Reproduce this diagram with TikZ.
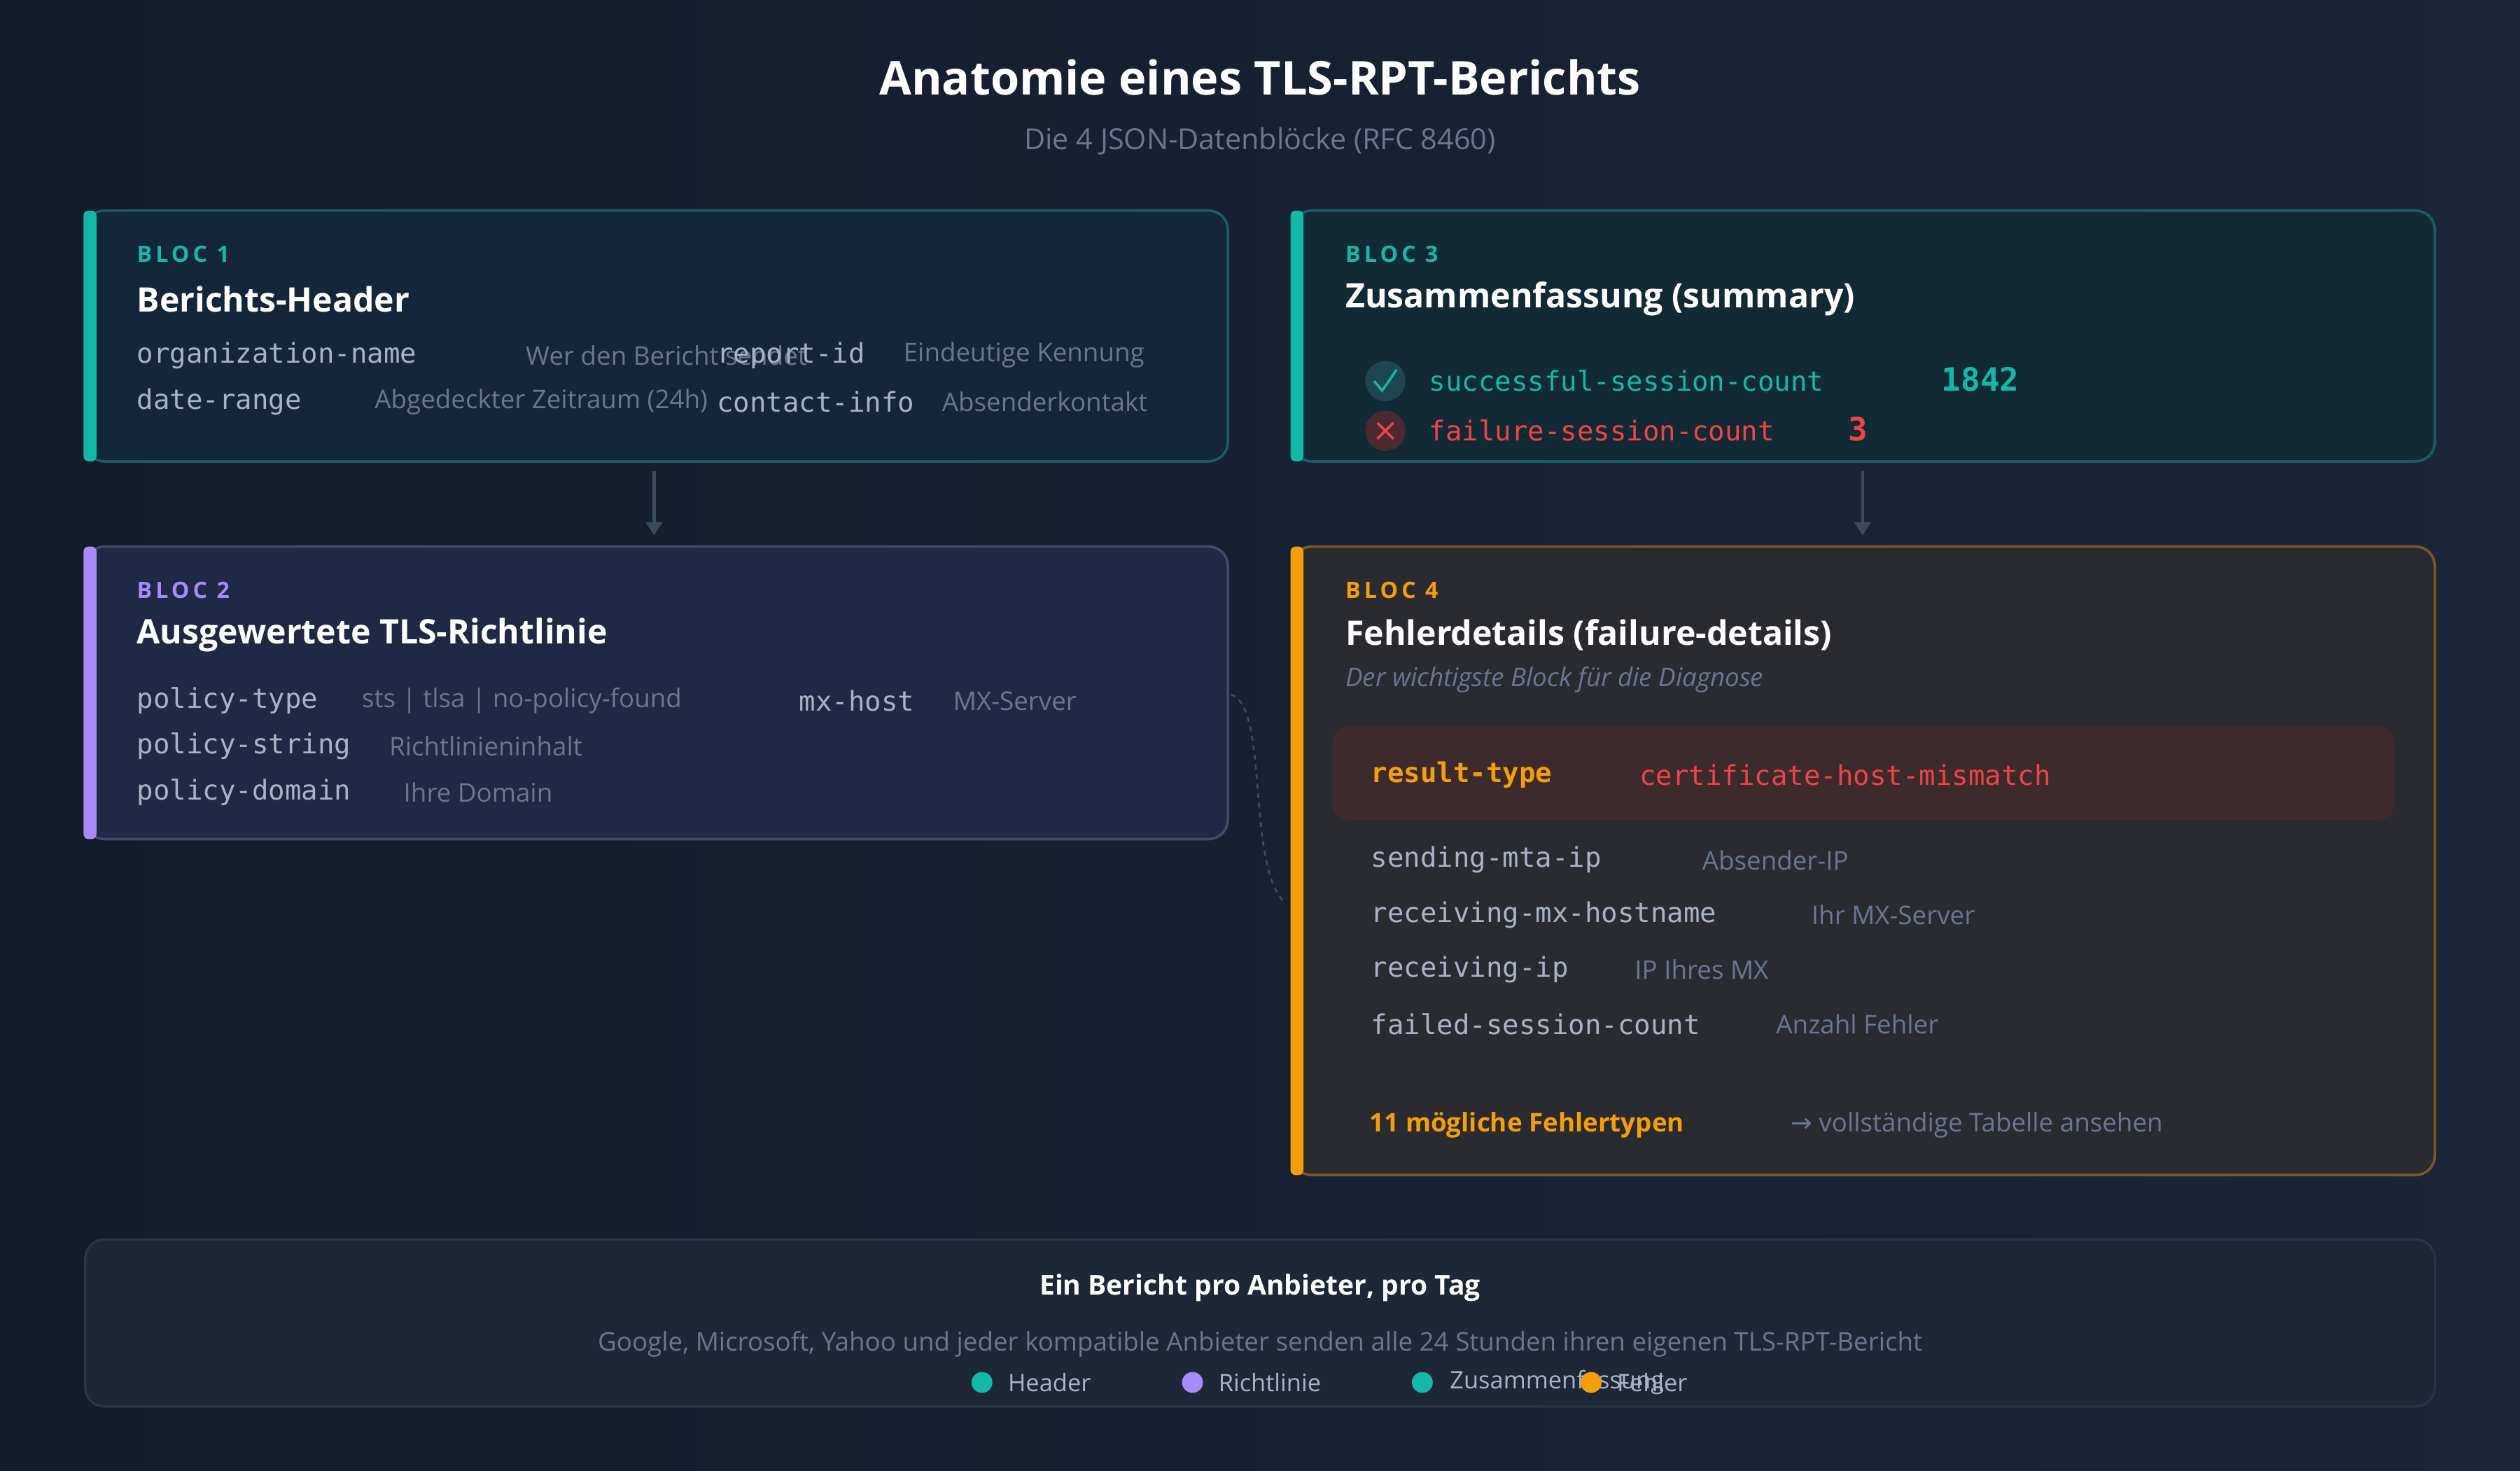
\documentclass[tikz,border=0pt]{standalone}
\usepackage{fontspec}
\setmainfont{Open Sans}
\setmonofont{DejaVu Sans Mono}
\newfontfamily\symf{DejaVu Sans}
\usetikzlibrary{arrows.meta}
\definecolor{bgA}{HTML}{131B2C}
\definecolor{bgB}{HTML}{1C2539}
\definecolor{tealc}{HTML}{14B8A6}
\definecolor{purp}{HTML}{A78BFA}
\definecolor{orng}{HTML}{F59E0B}
\definecolor{redc}{HTML}{EF4444}
\definecolor{keyc}{HTML}{A9B3C6}
\definecolor{dimc}{HTML}{6B7690}
\definecolor{arrc}{HTML}{3B4A5C}
\definecolor{f1}{HTML}{13263A}
\definecolor{e1}{HTML}{1A5C66}
\definecolor{f2}{HTML}{1F2844}
\definecolor{e2}{HTML}{414A6B}
\definecolor{f3}{HTML}{112A36}
\definecolor{f4}{HTML}{2A2B30}
\definecolor{e4}{HTML}{7A5A24}
\definecolor{okc}{HTML}{1E4652}
\definecolor{koc}{HTML}{4A2A30}
\definecolor{rbox}{HTML}{3D2A2C}
\definecolor{f5}{HTML}{1E2738}
\definecolor{e5}{HTML}{2A3648}
\tikzset{
 x=1pt,y=-1pt,
 t/.style={anchor=west,inner sep=0,font=\fontsize{#1}{#1}\selectfont},
 key/.style={anchor=west,inner sep=0,text=keyc,font=\ttfamily\fontsize{17}{17}\selectfont},
 dsc/.style={anchor=west,inner sep=0,text=dimc,font=\fontsize{16}{16}\selectfont},
 bloc/.style={anchor=west,inner sep=0,font=\fontsize{14}{14}\selectfont\bfseries\addfontfeature{LetterSpace=16}},
 ttl/.style={anchor=west,inner sep=0,text=white,font=\fontsize{21}{21}\selectfont\bfseries},
 box/.style={rounded corners=12,line width=1.6},
 bar/.style={rounded corners=3},
 conn/.style={arrc,line width=1.8,-{Triangle[length=8,width=10]}},
}
\begin{document}
\begin{tikzpicture}
\useasboundingbox (0,0) rectangle (1568,915);
\shade[left color=bgA,right color=bgB] (0,0) rectangle (1568,915);
\node[inner sep=0,text=white,font=\fontsize{29}{29}\selectfont\bfseries] (title) at (784,48) {Anatomie eines TLS-RPT-Berichts};
\node[inner sep=0,text=dimc,font=\fontsize{18}{18}\selectfont] (sub) at (784,88) {Die 4 JSON-Datenblöcke (RFC 8460)};
% Box 1
\draw[box,fill=f1,draw=e1] (53,131) rectangle (764,287);
\fill[bar,tealc] (52,131) rectangle (60,287);
\coordinate (b1s) at (407,293);
\node[bloc,text=tealc] (b1l) at (85,158) {BLOC 1};
\node[ttl] (b1t) at (85,186) {Berichts-Header};
\node[key] (k11) at (85,221) {organization-name};
\node[dsc] (d11) at (327,221) {Wer den Bericht sendet};
\node[key] (k12) at (446,221) {report-id};
\node[dsc] (d12) at (562,221) {Eindeutige Kennung};
\node[key] (k13) at (85,250) {date-range};
\node[dsc] (d13) at (233,250) {Abgedeckter Zeitraum (24h)};
\node[key] (k14) at (446,250) {contact-info};
\node[dsc] (d14) at (586,250) {Absenderkontakt};
% Box 2
\draw[box,fill=f2,draw=e2] (53,340) rectangle (764,522);
\fill[bar,purp] (52,340) rectangle (60,522);
\coordinate (b2n) at (407,333);
\node[bloc,text=purp] (b2l) at (85,367) {BLOC 2};
\node[ttl] (b2t) at (85,395) {Ausgewertete TLS-Richtlinie};
\node[key] (k21) at (85,436) {policy-type};
\node[dsc] (d21) at (225,436) {sts | tlsa | no-policy-found};
\node[key] (k22) at (497,436) {mx-host};
\node[dsc] (d22) at (593,436) {MX-Server};
\node[key] (k23) at (85,464) {policy-string};
\node[dsc] (d23) at (242,464) {Richtlinieninhalt};
\node[key] (k24) at (85,493) {policy-domain};
\node[dsc] (d24) at (251,493) {Ihre Domain};
\draw[conn] (b1s) -- (b2n);
% Box 3
\draw[box,fill=f3,draw=e1] (804,131) rectangle (1515,287);
\fill[bar,tealc] (803,131) rectangle (811,287);
\coordinate (b3s) at (1159,293);
\node[bloc,text=tealc] (b3l) at (837,158) {BLOC 3};
\node[ttl] (b3t) at (837,186) {Zusammenfassung (summary)};
\node[circle,fill=okc,minimum size=25,inner sep=0] (ok) at (862,237) {};
\draw[tealc,line width=1.5] (855,237) -- (860,243) -- (869,230);
\node[circle,fill=koc,minimum size=25,inner sep=0] (ko) at (862,268) {};
\draw[redc,line width=1.5] (857,263) -- (867,273) (867,263) -- (857,273);
\node[key,text=tealc] (k31) at (889,237) {successful-session-count};
\node[anchor=west,inner sep=0,text=tealc,font=\ttfamily\bfseries\fontsize{20}{20}\selectfont] (v31) at (1208,236) {1842};
\node[key,text=redc] (k32) at (889,268) {failure-session-count};
\node[anchor=west,inner sep=0,text=redc,font=\ttfamily\bfseries\fontsize{20}{20}\selectfont] (v32) at (1150,267) {3};
% Box 4
\draw[box,fill=f4,draw=e4] (804,340) rectangle (1515,731);
\fill[bar,orng] (803,340) rectangle (811,731);
\coordinate (b4n) at (1159,333);
\draw[conn] (b3s) -- (b4n);
\node[bloc,text=orng] (b4l) at (837,367) {BLOC 4};
\node[ttl] (b4t) at (837,395) {Fehlerdetails (failure-details)};
\node[dsc,font=\itshape\fontsize{16}{16}\selectfont] (b4s) at (837,423) {Der wichtigste Block für die Diagnose};
\fill[rbox,rounded corners=10] (829,452) rectangle (1490,510);
\node[key,text=orng,font=\ttfamily\bfseries\fontsize{17}{17}\selectfont] (rt) at (853,482) {result-type};
\node[key,text=redc] (rv) at (1020,482) {certificate-host-mismatch};
\node[key] (k41) at (853,535) {sending-mta-ip};
\node[dsc] (d41) at (1059,535) {Absender-IP};
\node[key] (k42) at (853,569) {receiving-mx-hostname};
\node[dsc] (d42) at (1127,569) {Ihr MX-Server};
\node[key] (k43) at (853,603) {receiving-ip};
\node[dsc] (d43) at (1017,603) {IP Ihres MX};
\node[key] (k44) at (853,637) {failed-session-count};
\node[dsc] (d44) at (1105,637) {Anzahl Fehler};
\node[anchor=west,inner sep=0,text=orng,font=\bfseries\fontsize{16}{16}\selectfont] (ft) at (852,700) {11 mögliche Fehlertypen};
\node[dsc] (fl) at (1114,700) {{\symf →} vollständige Tabelle ansehen};
% dashed link
\coordinate (c2) at (766,432);
\coordinate (c4) at (800,562);
\draw[arrc,dashed,line width=1.2] (c2) .. controls (790,440) and (775,540) .. (c4);
% Bottom
\draw[rounded corners=12,fill=f5,draw=e5,line width=1.4] (53,771) rectangle (1515,875);
\node[inner sep=0,text=white,font=\fontsize{17}{17}\selectfont\bfseries] (bt) at (784,801) {Ein Bericht pro Anbieter, pro Tag};
\node[inner sep=0,text=dimc,font=\fontsize{16}{16}\selectfont] (bs) at (784,836) {Google, Microsoft, Yahoo und jeder kompatible Anbieter senden alle 24 Stunden ihren eigenen TLS-RPT-Bericht};
\fill[tealc] (611,860) circle (6.5);
\node[t=15,text=keyc] (l1) at (627,860) {Header};
\fill[purp] (742,860) circle (6.5);
\node[t=15,text=keyc] (l2) at (758,860) {Richtlinie};
\fill[tealc] (885,860) circle (6.5);
\node[t=15,text=keyc] (l3) at (902,860) {Zusammenfassung};
\fill[orng] (990,860) circle (6.5);
\node[t=15,text=keyc] (l4) at (1006,860) {Fehler};
\end{tikzpicture}
\end{document}
